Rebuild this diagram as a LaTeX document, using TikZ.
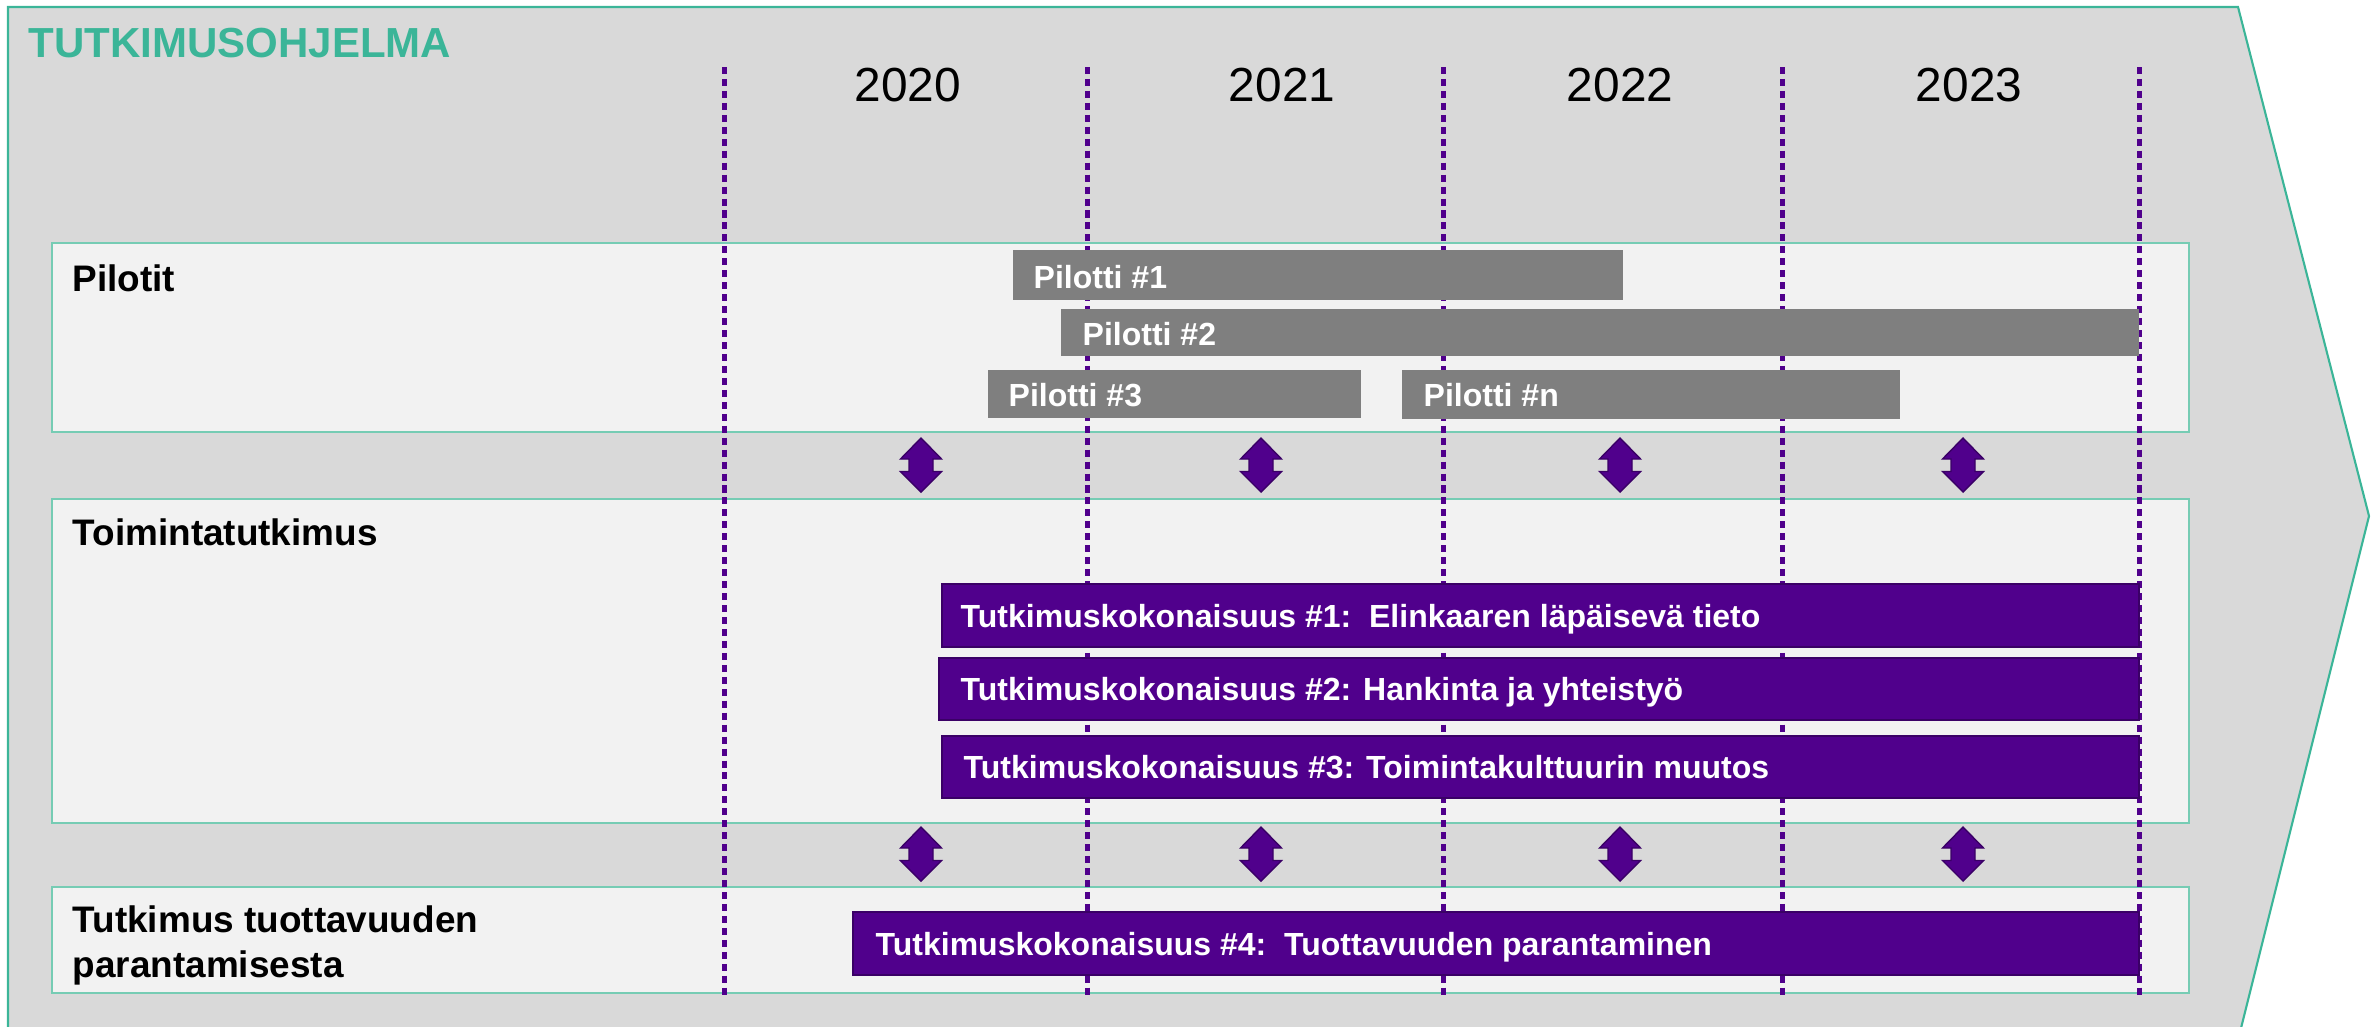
\documentclass[tikz,border=0pt]{standalone}
\usepackage{fontspec}
\setmainfont{Liberation Sans}
\usetikzlibrary{calc}

\definecolor{progteal}{RGB}{59,181,152}
\definecolor{laneteal}{RGB}{118,204,180}
\definecolor{bggray}{RGB}{217,217,217}
\definecolor{lanefill}{RGB}{242,242,242}
\definecolor{pilotgray}{RGB}{127,127,127}
\definecolor{progpurple}{RGB}{80,0,140}
\definecolor{darkpurple}{RGB}{58,0,102}

\tikzset{
	lane/.style = {draw=laneteal, fill=lanefill, line width=0.6pt},
	yearline/.style = {progpurple, line width=1.42pt, dash pattern=on 2pt off 1.4pt},
	pilotbar/.style = {fill=pilotgray},
	workbar/.style = {fill=progpurple, draw=darkpurple, line width=0.5pt},
	bartext/.style = {anchor=base west, inner sep=0pt, text=white, font=\fontsize{9.1pt}{11pt}\selectfont\bfseries},
	lanetext/.style = {anchor=base west, inner sep=0pt, font=\fontsize{10.5pt}{12.8pt}\selectfont\bfseries},
	yeartext/.style = {anchor=base, inner sep=0pt, font=\fontsize{13.6pt}{16pt}\selectfont},
	updown/.pic = {
		\draw[fill=progpurple, draw=darkpurple, line width=0.4pt]
			(0,-27) -- (20.5,-6) -- (12,-6) -- (12,6.5) -- (20.5,6.5) -- (0,27)
			-- (-20.5,6.5) -- (-12,6.5) -- (-12,-6) -- (-20.5,-6) -- cycle;
	}
}

\begin{document}
\begin{tikzpicture}[x=0.01cm, y=-0.01cm]
		\useasboundingbox (0,0) rectangle (2379,1026);
		
		% background chevron
		\draw[progteal, fill=bggray, line width=0.6pt] (8,7) -- (2238,7) -- (2369,516) -- (2240,1032) -- (8,1032) -- cycle;
		\node[anchor=base west, inner sep=0pt, text=progteal, font=\fontsize{11.95pt}{14pt}\selectfont\bfseries] (title) at (28,57) {TUTKIMUSOHJELMA};
		
		% years
		\node[yeartext] (y2020) at (908,101) {2020};
		\node[yeartext] (y2021) at (1282,101) {2021};
		\node[yeartext] (y2022) at (1620,101) {2022};
		\node[yeartext] (y2023) at (1969,101) {2023};
		
		% lanes
		\draw[lane] (52,243) rectangle (2189,432);
		\draw[lane] (52,499) rectangle (2189,823);
		\draw[lane] (52,887) rectangle (2189,993);
		\node[lanetext] (pilotit) at (72,291) {Pilotit};
		\node[lanetext] (toiminta) at (72,545) {Toimintatutkimus};
		\node[lanetext] (tuott) at (72,932) {Tutkimus tuottavuuden};
		\node[lanetext] (tuott2) at (72,977) {parantamisesta};
		
		% year borders
		\coordinate (L1a) at (724,67);  \coordinate (L1b) at (724,998);
		\coordinate (L2a) at (1087,67); \coordinate (L2b) at (1087,998);
		\coordinate (L3a) at (1443,67); \coordinate (L3b) at (1443,998);
		\coordinate (L4a) at (1782,67); \coordinate (L4b) at (1782,998);
		\coordinate (L5a) at (2139,67); \coordinate (L5b) at (2139,998);
		\draw[yearline] (L1a) -- (L1b);
		\draw[yearline] (L2a) -- (L2b);
		\draw[yearline] (L3a) -- (L3b);
		\draw[yearline] (L4a) -- (L4b);
		\draw[yearline] (L5a) -- (L5b);
		
		% pilots
		\fill[pilotbar] (1013,250) rectangle (1623,300);
		\fill[pilotbar] (1061,309) rectangle (2139,356);
		\fill[pilotbar] (988,370) rectangle (1361,418);
		\fill[pilotbar] (1402,370) rectangle (1900,419);
		\node[bartext] (p1) at (1033,288) {Pilotti \#1};
		\node[bartext] (p2) at (1082,345) {Pilotti \#2};
		\node[bartext] (p3) at (1008,406) {Pilotti \#3};
		\node[bartext] (pn) at (1423,406) {Pilotti \#n};
		
		% research packages
		\draw[workbar] (942,584) rectangle (2139,647);
		\draw[workbar] (939,658) rectangle (2139,720);
		\draw[workbar] (942,736) rectangle (2139,798);
		\draw[workbar] (853,912) rectangle (2139,975);
		\node[bartext] (t1) at (960,627) {Tutkimuskokonaisuus \#1:\ \ Elinkaaren läpäisevä tieto};
		\node[bartext] (t2) at (960,700) {Tutkimuskokonaisuus \#2: Hankinta ja yhteistyö};
		\node[bartext] (t3) at (963,778) {Tutkimuskokonaisuus \#3: Toimintakulttuurin muutos};
		\node[bartext] (t4) at (875,955) {Tutkimuskokonaisuus \#4:\ \ Tuottavuuden parantaminen};
		
		% interaction arrows
		\pic (a1) at (921,465) {updown};
		\pic (a2) at (1261,465) {updown};
		\pic (a3) at (1620,465) {updown};
		\pic (a4) at (1963,465) {updown};
		\pic (b1) at (921,854) {updown};
		\pic (b2) at (1261,854) {updown};
		\pic (b3) at (1620,854) {updown};
		\pic (b4) at (1963,854) {updown};
	\end{tikzpicture}
\end{document}
